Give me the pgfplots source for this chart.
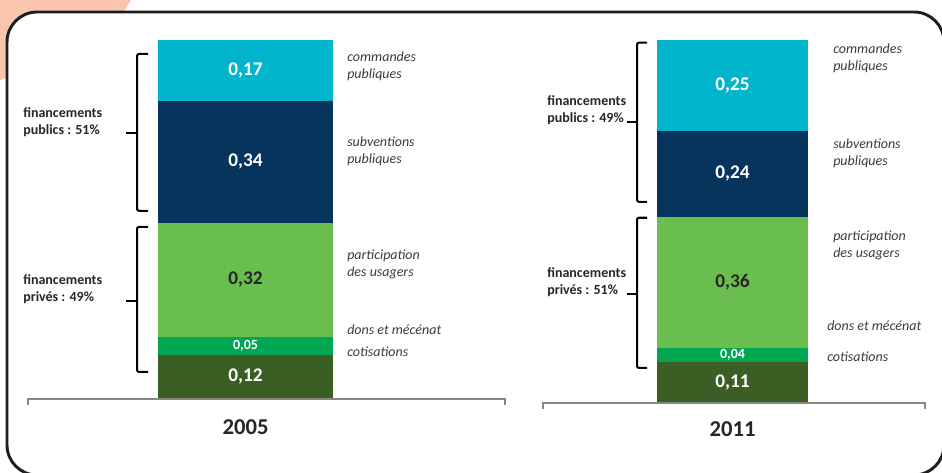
\documentclass[border=0pt]{standalone}
\usepackage{pgfplots}
\pgfplotsset{compat=1.18}
\usepackage{fontspec}
\setmainfont{Carlito}

\definecolor{cmd}{RGB}{0,181,204}
\definecolor{sub}{RGB}{6,52,92}
\definecolor{part}{RGB}{106,189,79}
\definecolor{dons}{RGB}{0,166,81}
\definecolor{coti}{RGB}{59,94,36}
\definecolor{orng}{RGB}{249,197,174}
\definecolor{axgray}{RGB}{134,134,134}
\definecolor{txt}{RGB}{38,38,38}
\definecolor{frame}{RGB}{30,30,30}

\pgfplotsset{
  panel/.style={
    ybar stacked, hide axis, clip=false, scale only axis,
    enlargelimits=false, ymin=0, ymax=1,
    every axis plot/.append style={draw=none},
  },
}
\tikzset{
  val/.style={font=\bfseries\fontsize{14.5}{17}\selectfont, white},
  sval/.style={font=\bfseries\fontsize{10.5}{12}\selectfont, white},
  lab/.style={font=\itshape\fontsize{10.5}{12.75}\selectfont, anchor=west, align=left, inner xsep=0pt, text=txt!90},
  grp/.style={font=\bfseries\fontsize{10.5}{12.75}\selectfont, anchor=west, align=left, inner xsep=0pt, text=txt},
  yr/.style={font=\bfseries\fontsize{17}{20}\selectfont, text=txt},
  brk/.style={line width=1.5pt, black, rounded corners=1.5pt},
  base/.style={line width=1.5pt, axgray},
}

\begin{document}
\begin{tikzpicture}
\begin{scope}[x=0.75pt,y=-0.75pt]
  \fill[orng] (0,0) -- (131,0) -- (100,50) -- (0,80) -- cycle;
  \draw[fill=white, draw=frame, line width=2.2pt, rounded corners=22.5pt] (7,12) rectangle (944,475);
\end{scope}

% 2005
\begin{axis}[panel, at={(28*0.75pt,-398*0.75pt)}, anchor=south west,
  width=357.75pt, height=268.5pt, xmin=28, xmax=505, bar width=175]
  \addplot[fill=coti] coordinates {(245.5,0.12)};
  \addplot[fill=dons] coordinates {(245.5,0.05)};
  \addplot[fill=part] coordinates {(245.5,0.32)};
  \addplot[fill=sub] coordinates {(245.5,0.34)};
  \addplot[fill=cmd] coordinates {(245.5,0.17)};
  \coordinate (a1) at (axis cs:245.5,0.06);
  \coordinate (a2) at (axis cs:245.5,0.145);
  \coordinate (a3) at (axis cs:245.5,0.33);
  \coordinate (a4) at (axis cs:245.5,0.66);
  \coordinate (a5) at (axis cs:245.5,0.915);
  \node[lab] at (axis cs:347,0.926) {commandes\\publiques};
  \node[lab] at (axis cs:347,0.690) {subventions\\publiques};
  \node[lab] at (axis cs:347,0.373) {participation\\des usagers};
  \node[lab] at (axis cs:347,0.190) {dons et mécénat};
  \node[lab] at (axis cs:347,0.128) {cotisations};
  \node[grp] at (axis cs:23,0.771) {financements\\publics : 51\%};
  \node[grp] at (axis cs:23,0.304) {financements\\privés : 49\%};
  \draw[brk] (axis cs:148,0.961) -- (axis cs:137,0.961) -- (axis cs:137,0.523) -- (axis cs:148,0.523);
  \draw[brk] (axis cs:126,0.741) -- (axis cs:137,0.741);
  \draw[brk] (axis cs:148,0.478) -- (axis cs:137,0.478) -- (axis cs:137,0.073) -- (axis cs:148,0.073);
  \draw[brk] (axis cs:126,0.272) -- (axis cs:137,0.272);
  \draw[base] (axis cs:28,-0.02) -- (axis cs:28,-0.003) -- (axis cs:505,-0.003) -- (axis cs:505,-0.02);
  \node[yr] at (axis cs:245.5,-0.082) {2005};
\end{axis}
\node[val] at (a1) {0,12};
\node[sval] at (a2) {0,05};
\node[val, text=txt] at (a3) {0,32};
\node[val] at (a4) {0,34};
\node[val] at (a5) {0,17};

% 2011
\begin{axis}[panel, at={(543*0.75pt,-402*0.75pt)}, anchor=south west,
  width=286.5pt, height=271.5pt, xmin=543, xmax=925, bar width=151]
  \addplot[fill=coti] coordinates {(732.5,0.11)};
  \addplot[fill=dons] coordinates {(732.5,0.04)};
  \addplot[fill=part] coordinates {(732.5,0.36)};
  \addplot[fill=sub] coordinates {(732.5,0.24)};
  \addplot[fill=cmd] coordinates {(732.5,0.25)};
  \coordinate (b1) at (axis cs:732.5,0.055);
  \coordinate (b2) at (axis cs:732.5,0.13);
  \coordinate (b3) at (axis cs:732.5,0.33);
  \coordinate (b4) at (axis cs:732.5,0.63);
  \coordinate (b5) at (axis cs:732.5,0.875);
  \node[lab] at (axis cs:833,0.949) {commandes\\publiques};
  \node[lab] at (axis cs:833,0.688) {subventions\\publiques};
  \node[lab] at (axis cs:833,0.432) {participation\\des usagers};
  \node[lab] at (axis cs:827,0.210) {dons et mécénat};
  \node[lab] at (axis cs:827,0.124) {cotisations};
  \node[grp] at (axis cs:547,0.807) {financements\\publics : 49\%};
  \node[grp] at (axis cs:547,0.331) {financements\\privés : 51\%};
  \draw[brk] (axis cs:647,0.993) -- (axis cs:637,0.993) -- (axis cs:637,0.553) -- (axis cs:647,0.553);
  \draw[brk] (axis cs:627,0.774) -- (axis cs:637,0.774);
  \draw[brk] (axis cs:647,0.509) -- (axis cs:637,0.509) -- (axis cs:637,0.094) -- (axis cs:647,0.094);
  \draw[brk] (axis cs:627,0.298) -- (axis cs:637,0.298);
  \draw[base] (axis cs:543,-0.02) -- (axis cs:543,-0.003) -- (axis cs:925,-0.003) -- (axis cs:925,-0.02);
  \node[yr] at (axis cs:732.5,-0.076) {2011};
\end{axis}
\node[val] at (b1) {0,11};
\node[sval] at (b2) {0,04};
\node[val, text=txt] at (b3) {0,36};
\node[val] at (b4) {0,24};
\node[val] at (b5) {0,25};

\pgfresetboundingbox
\path (0,0) rectangle (942*0.75pt,-472*0.75pt);
\end{tikzpicture}
\end{document}
